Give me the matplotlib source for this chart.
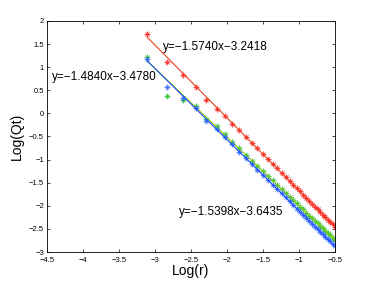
import numpy as np
import matplotlib
matplotlib.use("Agg")
import matplotlib.pyplot as plt

plt.rcParams["font.family"] = ["Liberation Sans", "DejaVu Sans"]

# log(r) values shared by the three series
log_r = [-3.107, -2.833, -2.607, -2.43, -2.288, -2.143, -2.028, -1.926, -1.829,
         -1.74, -1.655, -1.575, -1.50, -1.43, -1.365, -1.30, -1.24, -1.185,
         -1.13, -1.08, -1.03, -0.985, -0.94, -0.895, -0.855, -0.815, -0.775,
         -0.74, -0.705, -0.67, -0.635, -0.60, -0.565, -0.532, -0.50]

qt_red = [1.72, 1.12, 0.83, 0.56, 0.30, 0.10, -0.06, -0.22, -0.37, -0.51,
          -0.64, -0.76, -0.88, -0.99, -1.09, -1.19, -1.29, -1.37, -1.46, -1.54,
          -1.62, -1.69, -1.76, -1.83, -1.90, -1.96, -2.02, -2.08, -2.13, -2.19,
          -2.24, -2.30, -2.35, -2.40, -2.45]
qt_green = [1.21, 0.38, 0.30, 0.17, -0.13, -0.27, -0.45, -0.61, -0.76, -0.89,
            -1.02, -1.14, -1.25, -1.35, -1.45, -1.55, -1.64, -1.72, -1.80, -1.87,
            -1.95, -2.02, -2.08, -2.15, -2.21, -2.27, -2.33, -2.38, -2.43, -2.48,
            -2.54, -2.59, -2.64, -2.69, -2.74]
qt_blue = [1.17, 0.56, 0.34, 0.11, -0.17, -0.33, -0.51, -0.67, -0.83, -0.96,
           -1.10, -1.22, -1.33, -1.44, -1.54, -1.64, -1.73, -1.82, -1.90, -1.98,
           -2.06, -2.13, -2.20, -2.27, -2.33, -2.39, -2.45, -2.50, -2.56, -2.61,
           -2.67, -2.72, -2.77, -2.82, -2.87]

# fitted lines: slope, intercept
fit_red = (-1.5740, -3.2418)
fit_green = (-1.4840, -3.4780)
fit_blue = (-1.5398, -3.6435)

fig = plt.figure(figsize=(3.66, 2.83), dpi=100)
ax = fig.add_axes([0.128, 0.1095, 0.787, 0.8165])

xs = np.array([log_r[0], log_r[-1]])
series = [
    (qt_red, fit_red, (1, 0.1, 0.1), "#e8401c"),
    (qt_green, fit_green, (0.15, 0.75, 0.15), "#8ccc00"),
    (qt_blue, fit_blue, (0.2, 0.4, 1), "#1a4cff"),
]
for ys, (m, b), mc, lc in series:
    # matlab style asterisk = plus + cross
    ax.plot(log_r, ys, "+", color=mc, markersize=4.5, markeredgewidth=0.7, alpha=0.8)
    ax.plot(log_r, ys, "x", color=mc, markersize=3.5, markeredgewidth=0.7, alpha=0.8)
    ax.plot(xs, m * xs + b, "-", color=lc, linewidth=0.8)

tk = dict(fontsize=8.5)
ax.text(-2.89, 1.44, "y=\u22121.5740x\u22123.2418", va="center", **tk)
ax.text(-4.43, 0.79, "y=\u22121.4840x\u22123.4780", va="center", **tk)
ax.text(-2.67, -2.13, "y=\u22121.5398x\u22123.6435", va="center", **tk)

xt = np.arange(-4.5, -0.49, 0.5)
yt = np.arange(-3, 2.01, 0.5)
ax.set_xlim(-4.5, -0.5)
ax.set_ylim(-3, 2)
ax.set_xticks(xt)
ax.set_yticks(yt)
ax.set_xticklabels([f"{v:g}".replace("-", "\u2212") for v in xt])
ax.set_yticklabels([f"{v:g}".replace("-", "\u2212") for v in yt])
ax.tick_params(direction="in", top=True, right=True, labelsize=5.5, length=2.5,
               width=0.5)
ax.tick_params(axis="x", pad=3.5)
ax.tick_params(axis="y", pad=2)
for s in ax.spines.values():
    s.set_linewidth(0.6)
ax.set_xlabel("Log(r)", fontsize=10, labelpad=0)
ax.set_ylabel("Log(Qt)", fontsize=10, labelpad=4)

fig.savefig("out.png", dpi=100)
